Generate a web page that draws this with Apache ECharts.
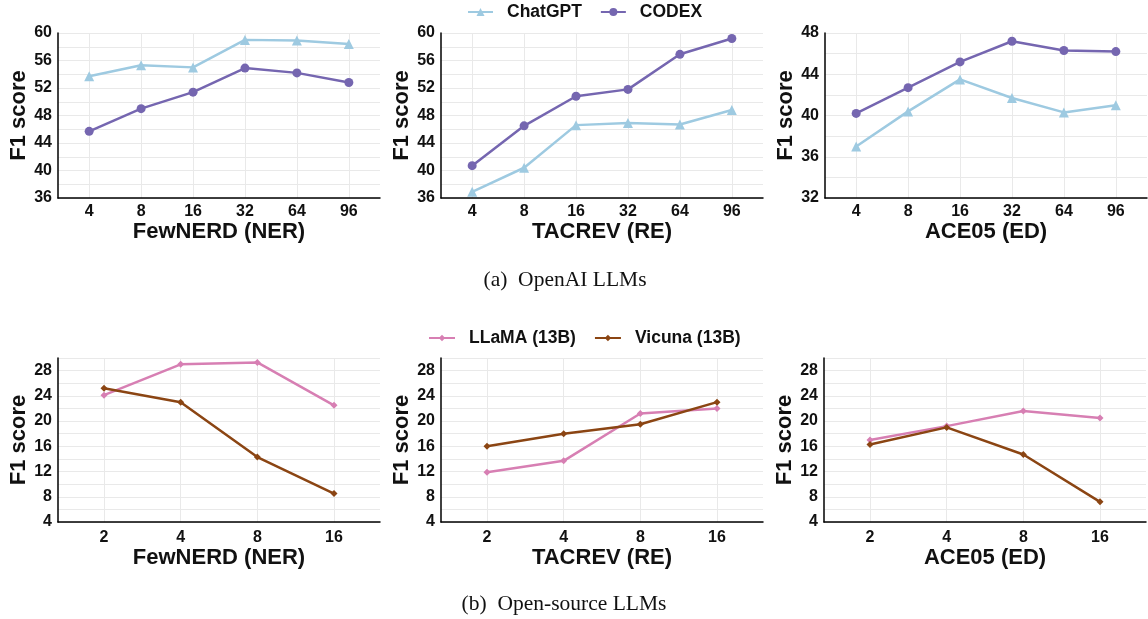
<!DOCTYPE html>
<html>
<head>
<meta charset="utf-8">
<script src="https://cdn.jsdelivr.net/npm/echarts@6/dist/echarts.min.js"></script>
<style>
html,body{margin:0;padding:0;background:#fff;}
#chart{width:1148px;height:619px;}
</style>
</head>
<body>
<div id="chart"></div>
<script>
// ---- data ----
const topCats = ['4', '8', '16', '32', '64', '96'];
const botCats = ['2', '4', '8', '16'];
const datasetNames = ['FewNERD (NER)', 'TACREV (RE)', 'ACE05 (ED)'];
const topSeriesNames = ['ChatGPT', 'CODEX'];
const botSeriesNames = ['LLaMA (13B)', 'Vicuna (13B)'];

const chatgptNER = [53.7, 55.3, 55.0, 59.0, 58.9, 58.4];
const codexNER   = [45.7, 49.0, 51.4, 54.9, 54.2, 52.8];
const chatgptRE  = [36.9, 40.4, 46.6, 46.9, 46.7, 48.8];
const codexRE    = [40.7, 46.5, 50.8, 51.8, 56.9, 59.2];
const chatgptED  = [37.0, 40.4, 43.5, 41.7, 40.3, 41.0];
const codexED    = [40.2, 42.7, 45.2, 47.2, 46.3, 46.2];

const llamaNER  = [24.1, 29.0, 29.3, 22.5];
const vicunaNER = [25.2, 23.0, 14.3, 8.5];
const llamaRE   = [11.9, 13.7, 21.2, 22.0];
const vicunaRE  = [16.0, 18.0, 19.5, 23.0];
const llamaED   = [17.0, 19.2, 21.6, 20.5];
const vicunaED  = [16.3, 19.0, 14.7, 7.2];

const topYRanges = [[36, 60], [36, 60], [32, 48]];
const botYRanges = [[4, 30], [4, 30], [4, 30]];
const captionA = '(a)  OpenAI LLMs';
const captionB = '(b)  Open-source LLMs';

// ---- styling / layout ----
const colors = { ChatGPT: '#9ecae1', CODEX: '#7566b0', LLaMA: '#d77fb3', Vicuna: '#8b4513' };
const FONT = '"Liberation Sans", Arial, sans-serif';
const SERIF = '"Liberation Serif", "Times New Roman", serif';
const lefts = [58, 441, 825];
const W = 322;
const gridLine = { show: true, lineStyle: { color: '#e9e9e9', width: 1 } };

const grids = [], xAxes = [], yAxes = [], series = [];

function addPanel(idx, left, top, height, cats, yr, nameGap, labelMargin) {
  grids.push({ left: left, top: top, width: W, height: height, containLabel: false });
  const n = cats.length;
  const ticks = cats.map((c, i) => i);
  xAxes.push({
    type: 'value', gridIndex: idx, min: -0.6, max: n - 1 + 0.6,
    name: datasetNames[idx % 3], nameLocation: 'middle', nameGap: nameGap,
    nameTextStyle: { fontFamily: FONT, fontWeight: 'bold', fontSize: 22, color: '#111' },
    axisLine: { show: true, onZero: false, lineStyle: { color: '#000', width: 1.5 } },
    axisTick: { show: false, customValues: ticks },
    axisLabel: { customValues: ticks, margin: labelMargin, fontFamily: FONT, fontWeight: 'bold', fontSize: 16, color: '#111',
      formatter: v => cats[Math.round(v)] },
    splitLine: gridLine
  });
  yAxes.push({
    type: 'value', gridIndex: idx, min: yr[0], max: yr[1], interval: 2,
    name: 'F1 score', nameLocation: 'middle', nameGap: 28, nameRotate: 90,
    nameTextStyle: { fontFamily: FONT, fontWeight: 'bold', fontSize: 22, color: '#111' },
    axisLine: { show: true, onZero: false, lineStyle: { color: '#000', width: 1.5 } },
    axisTick: { show: false },
    axisLabel: { margin: 6, fontFamily: FONT, fontWeight: 'bold', fontSize: 16, color: '#111',
      formatter: v => (v % 4 === 0 ? String(v) : '') },
    splitLine: gridLine
  });
}

function addSeries(idx, name, data, color, symbol, size) {
  series.push({
    type: 'line', name: name, xAxisIndex: idx, yAxisIndex: idx,
    data: data.map((v, i) => [i, v]),
    symbol: symbol, symbolSize: size,
    itemStyle: { color: color },
    lineStyle: { color: color, width: 2.5 },
    animation: false, z: name === 'CODEX' || name === 'Vicuna (13B)' ? 3 : 2
  });
}

const topData = [[chatgptNER, codexNER], [chatgptRE, codexRE], [chatgptED, codexED]];
const botData = [[llamaNER, vicunaNER], [llamaRE, vicunaRE], [llamaED, vicunaED]];

for (let k = 0; k < 3; k++) {
  addPanel(k, lefts[k], 33, 165, topCats, topYRanges[k], 20, 6);
  addSeries(k, topSeriesNames[0], topData[k][0], colors.ChatGPT, 'triangle', 10);
  addSeries(k, topSeriesNames[1], topData[k][1], colors.CODEX, 'circle', 9);
}
for (let k = 0; k < 3; k++) {
  const idx = k + 3;
  addPanel(idx, lefts[k] - (k === 2 ? 1 : 0), 358, 164, botCats, botYRanges[k], 24, 8);
  addSeries(idx, botSeriesNames[0], botData[k][0], colors.LLaMA, 'diamond', 7);
  addSeries(idx, botSeriesNames[1], botData[k][1], colors.Vicuna, 'diamond', 7);
}

const legendText = { fontFamily: FONT, fontWeight: 'bold', fontSize: 17.5, color: '#111', padding: [0, 0, 0, 9] };

const option = {
  backgroundColor: '#fff',
  animation: false,
  grid: grids,
  xAxis: xAxes,
  yAxis: yAxes,
  series: series,
  legend: [
    { data: topSeriesNames, left: 467, top: 3, padding: 0, itemWidth: 25, itemHeight: 10, itemGap: 18, textStyle: legendText },
    { data: botSeriesNames, left: 428, top: 329, padding: 0, itemWidth: 26, itemHeight: 8, itemGap: 18, textStyle: legendText }
  ],
  graphic: [
    { type: 'text', x: 565, y: 280, style: { text: captionA, fontFamily: SERIF, fontSize: 21.5, fill: '#111', textAlign: 'center', textVerticalAlign: 'middle' } },
    { type: 'text', x: 564, y: 604, style: { text: captionB, fontFamily: SERIF, fontSize: 21.5, fill: '#111', textAlign: 'center', textVerticalAlign: 'middle' } }
  ]
};

const chart = echarts.init(document.getElementById('chart'), null, { renderer: 'canvas' });
chart.setOption(option);
</script>
</body>
</html>
